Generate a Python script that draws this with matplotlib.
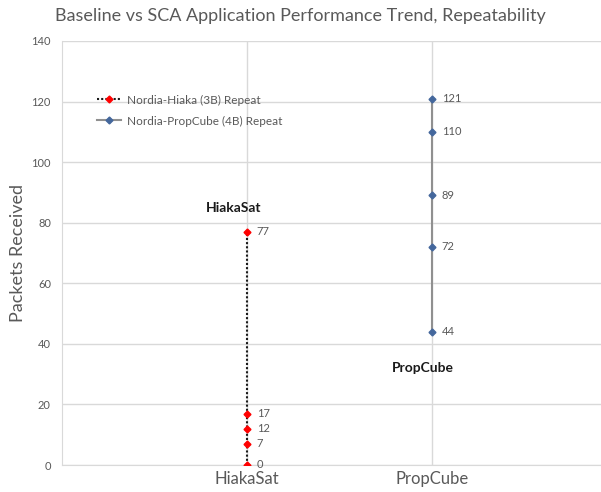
import matplotlib.pyplot as plt

plt.rcParams['font.family'] = ['Lato', 'DejaVu Sans']

categories = ['HiakaSat', 'PropCube']
hiaka_vals = [0, 7, 12, 17, 77]
propcube_vals = [44, 72, 89, 110, 121]
yticks = [0, 20, 40, 60, 80, 100, 120, 140]

grid_c = '#d9d9d9'
text_c = '#595959'

fig = plt.figure(figsize=(6.01, 4.92), dpi=100)
ax = fig.add_axes([62 / 601, 27 / 492, 555 / 601, 424 / 492])

ax.plot([1] * len(hiaka_vals), hiaka_vals, linestyle=(0, (1, 1)), color='#1a1a1a',
        lw=1.5, marker='D', ms=3.5, mfc='#ff0000', mec='#ff0000',
        label='Nordia-Hiaka (3B) Repeat', zorder=3)
ax.plot([2] * len(propcube_vals), propcube_vals, linestyle='-', color='#909090',
        lw=1.5, marker='D', ms=3.5, mfc='#44679c', mec='#44679c',
        label='Nordia-PropCube (4B) Repeat', zorder=3)

for v in hiaka_vals:
    ax.annotate(str(v), (1, v), xytext=(7, 0), textcoords='offset points',
                va='center', ha='left', fontsize=8, color=text_c)
for v in propcube_vals:
    ax.annotate(str(v), (2, v), xytext=(7, 0), textcoords='offset points',
                va='center', ha='left', fontsize=8, color=text_c)

ax.text(0.93, 85, 'HiakaSat', ha='center', va='center', fontsize=10,
        fontweight='bold', color='#1a1a1a')
ax.text(1.95, 32, 'PropCube', ha='center', va='center', fontsize=10,
        fontweight='bold', color='#1a1a1a')

ax.set_xlim(0, 3)
ax.set_ylim(0, 140)
ax.set_yticks(yticks)
ax.set_xticks([1, 2])
ax.set_xticklabels(categories, fontsize=12, color=text_c)
ax.tick_params(axis='y', labelsize=8, colors=text_c, length=0, pad=8)
ax.tick_params(axis='x', length=0, pad=4)
ax.grid(True, color=grid_c, lw=1)
ax.set_axisbelow(True)
for s in ['top', 'right']:
    ax.spines[s].set_visible(False)
ax.spines['left'].set_color(grid_c)
ax.spines['bottom'].set_color(grid_c)

ax.set_ylabel('Packets Received', fontsize=13, color=text_c)
ax.yaxis.set_label_coords(-0.064, 0.5)
fig.text(0.5, 0.968, 'Baseline vs SCA Application Performance Trend, Repeatability',
         ha='center', va='center', fontsize=13, color=text_c)

ax.legend(loc='upper left', bbox_to_anchor=(0.055, 0.885), frameon=False,
          fontsize=8.5, labelcolor=text_c, handlelength=2.0, handletextpad=0.5,
          borderaxespad=0, labelspacing=0.85)

fig.savefig('out.png', dpi=100)
